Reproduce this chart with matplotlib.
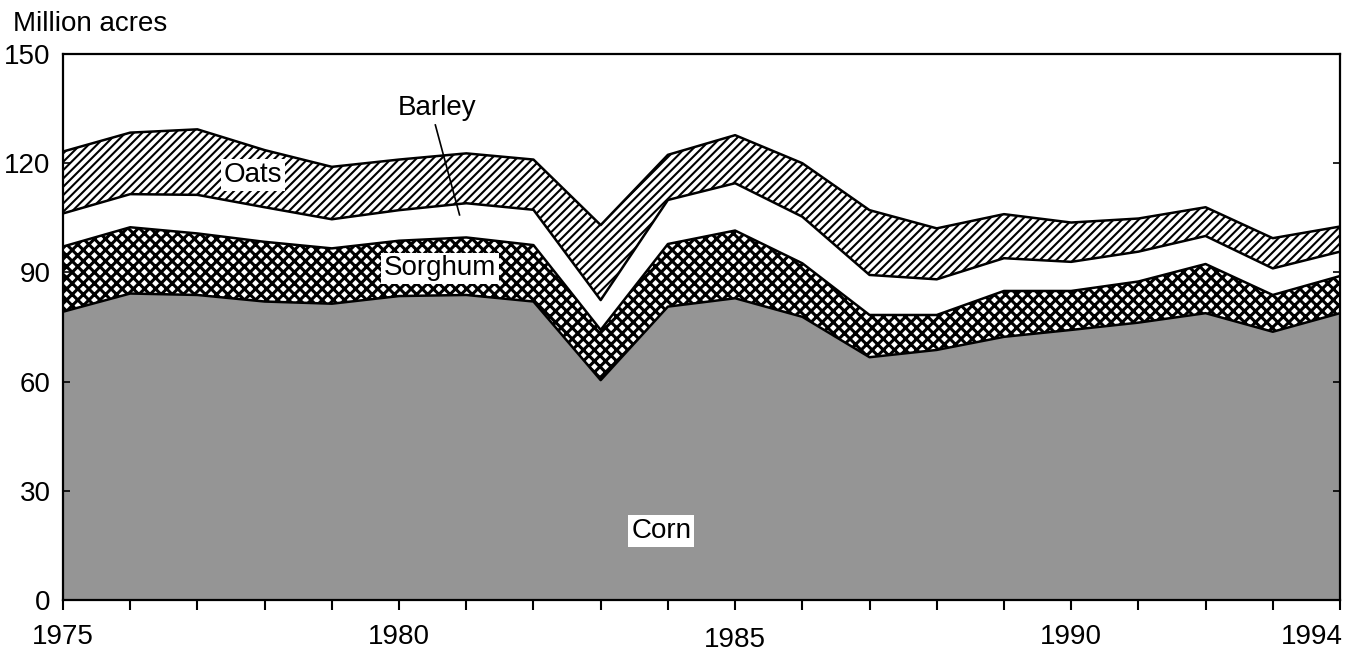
import matplotlib.pyplot as plt
from matplotlib.transforms import ScaledTranslation

plt.rcParams['font.family'] = ['Liberation Sans', 'DejaVu Sans']
plt.rcParams['hatch.linewidth'] = 1.5

years = list(range(1975, 1995))
corn = [79.2, 84.2, 83.8, 82.0, 81.4, 83.5, 83.8, 82.0, 60.4, 80.6,
        82.9, 77.8, 66.7, 68.7, 72.3, 74.2, 76.2, 78.8, 73.7, 78.8]
sorghum = [17.9, 18.2, 16.9, 16.4, 15.2, 15.2, 15.8, 15.5, 13.8, 17.2,
           18.6, 14.7, 11.6, 9.6, 12.6, 10.7, 11.3, 13.5, 10.1, 10.2]
barley = [9.1, 9.1, 10.6, 9.5, 8.0, 8.4, 9.4, 9.7, 8.2, 12.1,
          13.0, 12.8, 11.0, 9.8, 9.0, 8.0, 8.2, 7.7, 7.3, 6.7]
oats = [17.0, 16.9, 18.0, 15.7, 14.4, 13.9, 13.7, 13.8, 20.6, 12.4,
        13.2, 14.7, 17.8, 14.0, 12.1, 10.8, 9.1, 7.9, 8.3, 6.9]

y_ticks = [0, 30, 60, 90, 120, 150]
x_labeled = [1975, 1980, 1985, 1990, 1994]

fig = plt.figure(figsize=(13.45, 6.52), dpi=100)
ax = fig.add_axes([63/1345, 52/652, 1277/1345, 546/652])

# cumulative tops of each band
s_top = [c + s for c, s in zip(corn, sorghum)]
b_top = [t + b for t, b in zip(s_top, barley)]
o_top = [t + o for t, o in zip(b_top, oats)]

ax.fill_between(years, 0, corn, facecolor='#959595', linewidth=0)
with plt.rc_context({'hatch.linewidth': 2.2}):
    ax.fill_between(years, corn, s_top, facecolor='white', hatch='xxx', edgecolor='black', linewidth=0)
ax.fill_between(years, s_top, b_top, facecolor='white', linewidth=0)
ax.fill_between(years, b_top, o_top, facecolor='white', hatch='////', edgecolor='black', linewidth=0)
for top in (corn, s_top, b_top, o_top):
    ax.plot(years, top, color='black', linewidth=1.8)

ax.set_xlim(1975, 1994)
ax.set_ylim(0, 150)
ax.set_yticks(y_ticks)
ax.set_xticks(years)
ax.set_xticklabels([str(y) if y in x_labeled else '' for y in years])
ax.tick_params(axis='x', direction='out', length=7, width=1.5, pad=10, labelsize=20)
ax.tick_params(axis='y', direction='in', length=5, width=1.2, pad=9, labelsize=20,
               left=True, right=True)
for sp in ax.spines.values():
    sp.set_linewidth(1.6)

for lab in ax.get_xticklabels():
    if lab.get_text() == '1994':
        lab.set_ha('right')
        lab.set_transform(lab.get_transform() + ScaledTranslation(3/100, 0, fig.dpi_scale_trans))
    if lab.get_text() == '1985':
        lab.set_transform(lab.get_transform() + ScaledTranslation(0, -3/100, fig.dpi_scale_trans))

box = dict(facecolor='white', edgecolor='none', pad=2)
ax.text(1977.83, 116.8, 'Oats', fontsize=20, ha='center', va='center', bbox=box)
ax.text(1980.61, 91.1, 'Sorghum', fontsize=20, ha='center', va='center', bbox=box)
ax.text(1983.9, 19, 'Corn', fontsize=20, ha='center', va='center', bbox=box)
ax.text(1980.57, 135.2, 'Barley', fontsize=20, ha='center', va='center')
ax.plot([1980.54, 1980.9], [130.5, 105.8], color='black', linewidth=1.2)

fig.text(13/1345, 1 - 24/652, 'Million acres', fontsize=20, ha='left', va='center')

fig.savefig('out.png', dpi=100)
